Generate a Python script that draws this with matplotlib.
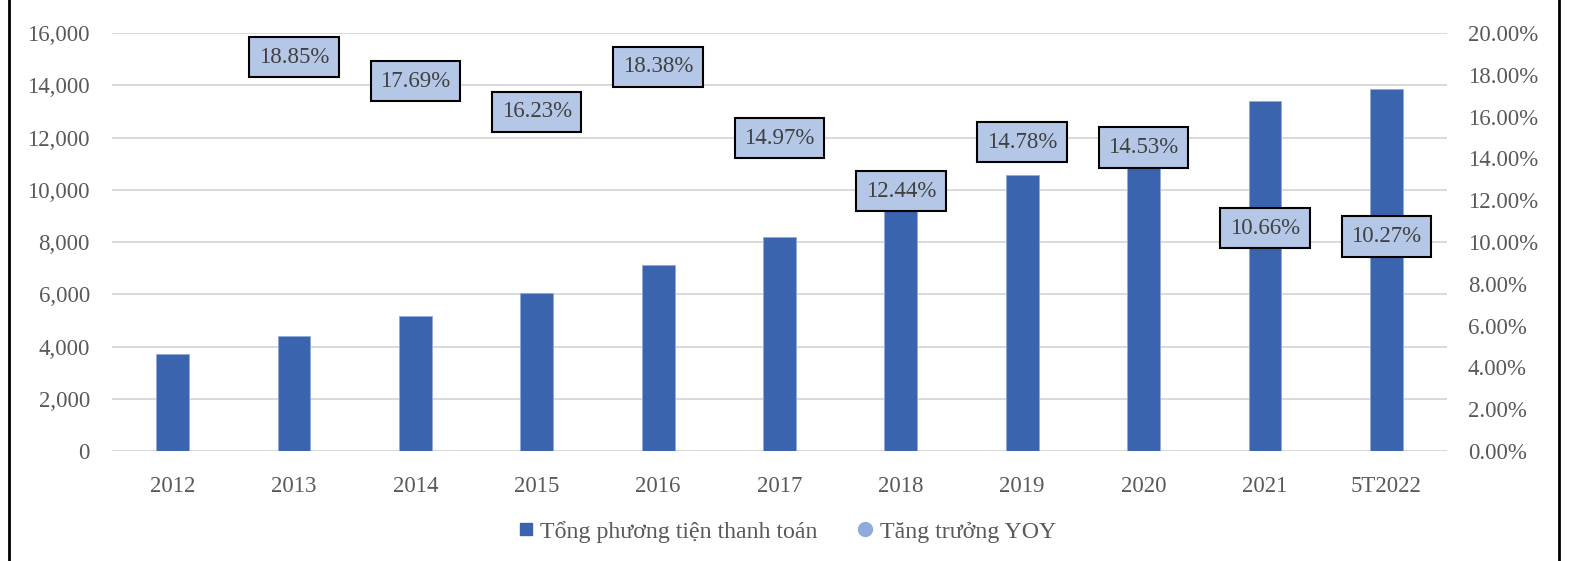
import numpy as np
import matplotlib.pyplot as plt
from matplotlib.lines import Line2D

plt.rcParams['font.family'] = ['Liberation Serif', 'DejaVu Serif']

# data
categories = ["2012", "2013", "2014", "2015", "2016", "2017", "2018", "2019", "2020", "2021", "5T2022"]
tong_pttt = [3700, 4400, 5180, 6050, 7120, 8180, 9225, 10580, 12100, 13410, 13860]
tang_truong = [None, 18.85, 17.69, 16.23, 18.38, 14.97, 12.44, 14.78, 14.53, 10.66, 10.27]

bar_color = "#3A64AD"
label_fill = "#B4C7E7"
text_grey = "#595959"

fig = plt.figure(figsize=(15.73, 5.61), dpi=100)
ax = fig.add_axes([0.0712, 0.196, 0.8487, 0.745])
ax2 = ax.twinx()

x = np.arange(len(categories))
ax.bar(x, tong_pttt, width=0.27, color=bar_color, edgecolor="#8FAADC", linewidth=0.6, zorder=2)

ax.set_xlim(-0.5, len(categories) - 0.5)
ax.set_ylim(0, 16000)
ax.set_yticks(np.arange(0, 16001, 2000))
ax.set_yticklabels([f"{v:,}" for v in range(0, 16001, 2000)])
ax.set_xticks(x)
ax.set_xticklabels(categories)
ax.grid(axis="y", color="#D9D9D9", linewidth=1.4, zorder=0)
ax.set_axisbelow(True)

ax2.set_ylim(0, 20)
ax2.set_yticks(np.arange(0, 20.1, 2))
ax2.set_yticklabels([f"{v:.2f}%" for v in np.arange(0, 20.1, 2)])

for a in (ax, ax2):
    for s in a.spines.values():
        s.set_visible(False)
    a.tick_params(length=0, labelsize=16.5, labelcolor=text_grey)
ax.tick_params(axis="y", pad=16)
ax.tick_params(axis="x", pad=18)
ax2.tick_params(axis="y", pad=15)

# growth labels (no visible markers, only data labels)
for i, g in enumerate(tang_truong):
    if g is None:
        continue
    ax2.text(i, g, f"{g:.2f}%", ha="center", va="center", fontsize=16.5, color="#404040",
             bbox=dict(boxstyle="square,pad=0.42", facecolor=label_fill, edgecolor="black", linewidth=1.5),
             zorder=5)

handles = [
    Line2D([], [], marker="s", linestyle="none", markersize=8, color=bar_color),
    Line2D([], [], marker="o", linestyle="none", markersize=10, color="#8FAADC"),
]
fig.legend(handles, ["Tổng phương tiện thanh toán", "Tăng trưởng YOY"], loc="center",
           bbox_to_anchor=(0.5, 0.052), ncol=2, frameon=False, fontsize=17.2,
           labelcolor=text_grey, handletextpad=0.25, columnspacing=1.65, handlelength=0.7)

# side borders of the original frame
fig.add_artist(Line2D([0.0055, 0.0055], [0, 1], color="black", linewidth=2.0, transform=fig.transFigure))
fig.add_artist(Line2D([0.9912, 0.9912], [0, 1], color="black", linewidth=2.0, transform=fig.transFigure))

fig.savefig("out.png", dpi=100)
